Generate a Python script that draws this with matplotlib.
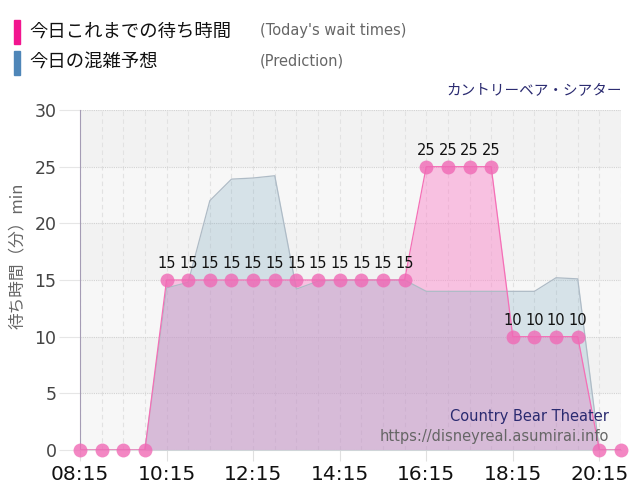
import matplotlib
matplotlib.use("Agg")
import matplotlib.pyplot as plt
import numpy as np
from matplotlib.patches import Rectangle

# 30分ごとの時刻 (08:15 - 20:45)
jikan = ["08:15", "08:45", "09:15", "09:45", "10:15", "10:45", "11:15", "11:45",
         "12:15", "12:45", "13:15", "13:45", "14:15", "14:45", "15:15", "15:45",
         "16:15", "16:45", "17:15", "17:45", "18:15", "18:45", "19:15", "19:45",
         "20:15", "20:45"]

# 今日これまでの待ち時間
machi = [0, 0, 0, 0, 15, 15, 15, 15, 15, 15, 15, 15, 15, 15, 15, 15,
         25, 25, 25, 25, 10, 10, 10, 10, 0, 0]

# 今日の混雑予想
yosou = [0, 0, 0, 0, 14.3, 14.8, 22.0, 23.9, 24.0, 24.2, 14.2, 14.9, 15.0, 15.0,
         15.0, 15.0, 14.0, 14.0, 14.0, 14.0, 14.0, 14.0, 15.2, 15.1, 0, 0]

jp = ["Noto Sans CJK JP", "DejaVu Sans"]

x = np.arange(len(jikan))
machi = np.array(machi)
yosou = np.array(yosou)

fig = plt.figure(figsize=(6.4, 5.0), dpi=100)
ax = fig.add_axes([80 / 640, 50 / 500, 541 / 640, 340 / 500])

# 背景の縞模様
for i, y0 in enumerate(range(0, 30, 5)):
    ax.axhspan(y0, y0 + 5, color="#f7f7f7" if i % 2 == 0 else "#f2f2f2", zorder=0, lw=0)

# 待ち時間を先に、予想を半透明で上に重ねる
ax.fill_between(x, machi, color="#fa8ccc", alpha=0.5, lw=0, zorder=2)
ax.fill_between(x, yosou, color="#82aec4", alpha=0.28, lw=0, zorder=3)
ax.plot(x, yosou, color="#aebbc6", lw=0.9, zorder=3)
ax.plot(x, machi, color="#f56fb6", lw=0.9, zorder=4)
ax.plot(x, machi, "o", ms=10, color="#f069b5", alpha=0.8, mec="none", zorder=5, clip_on=False)

for xi, v in zip(x, machi):
    if v > 0:
        ax.text(xi, v + 0.8, str(v), ha="center", va="bottom", fontsize=10.5, color="#111", zorder=6)

ax.set_xlim(0, len(jikan) - 1)
ax.set_ylim(0, 30)
ax.set_yticks(range(0, 31, 5))
ax.set_xticks(x[::4])
ax.set_xticklabels(jikan[::4], fontsize=14.5, color="#111")
ax.set_xticks(x, minor=True)
ax.tick_params(axis="y", labelsize=12.5, labelcolor="#444", length=15, color="#e6e6e6", pad=2)
ax.tick_params(axis="x", which="major", length=8, color="#e0e0e0", pad=3)
ax.tick_params(axis="x", which="minor", length=0)

ax.grid(axis="y", color="#d2d2d2", ls=(0, (1, 1)), lw=0.8, zorder=1)
ax.grid(axis="x", which="both", color="#e2e2e2", ls=(0, (4, 3)), lw=0.8, zorder=1)
ax.set_axisbelow(True)

for s in ["top", "right"]:
    ax.spines[s].set_visible(False)
ax.spines["left"].set_color("#a59cb5")
ax.spines["bottom"].set_color("#dcdcdc")

ax.set_ylabel("待ち時間（分）min", family=jp, fontsize=12, color="#666", labelpad=6)
ax.yaxis.set_label_coords(-0.1, 0.57)

# 凡例
fig.patches.append(Rectangle((14 / 640, 1 - 44 / 500), 6 / 640, 24 / 500, color="#f2158f", transform=fig.transFigure))
fig.patches.append(Rectangle((14 / 640, 1 - 75 / 500), 6 / 640, 24 / 500, color="#4f86b8", transform=fig.transFigure))
fig.text(29 / 640, 1 - 32 / 500, "今日これまでの待ち時間", family=jp, fontsize=13.2, color="#111", va="center")
fig.text(29 / 640, 1 - 62 / 500, "今日の混雑予想", family=jp, fontsize=13.2, color="#111", va="center")
fig.text(260 / 640, 1 - 31 / 500, "(Today's wait times)", fontsize=10.5, color="#666", va="center")
fig.text(260 / 640, 1 - 61 / 500, "(Prediction)", fontsize=10.5, color="#666", va="center")

fig.text(622 / 640, 1 - 90 / 500, "カントリーベア・シアター", family=jp, fontsize=10.5, color="#2a2a70", ha="right", va="center")

fig.text(609 / 640, 1 - 416 / 500, "Country Bear Theater", fontsize=10.5, color="#2a2a70", ha="right", va="center", zorder=7)
fig.text(609 / 640, 1 - 436 / 500, "https://disneyreal.asumirai.info", fontsize=10.5, color="#666", ha="right", va="center", zorder=7)

fig.savefig("out.png", dpi=100)
